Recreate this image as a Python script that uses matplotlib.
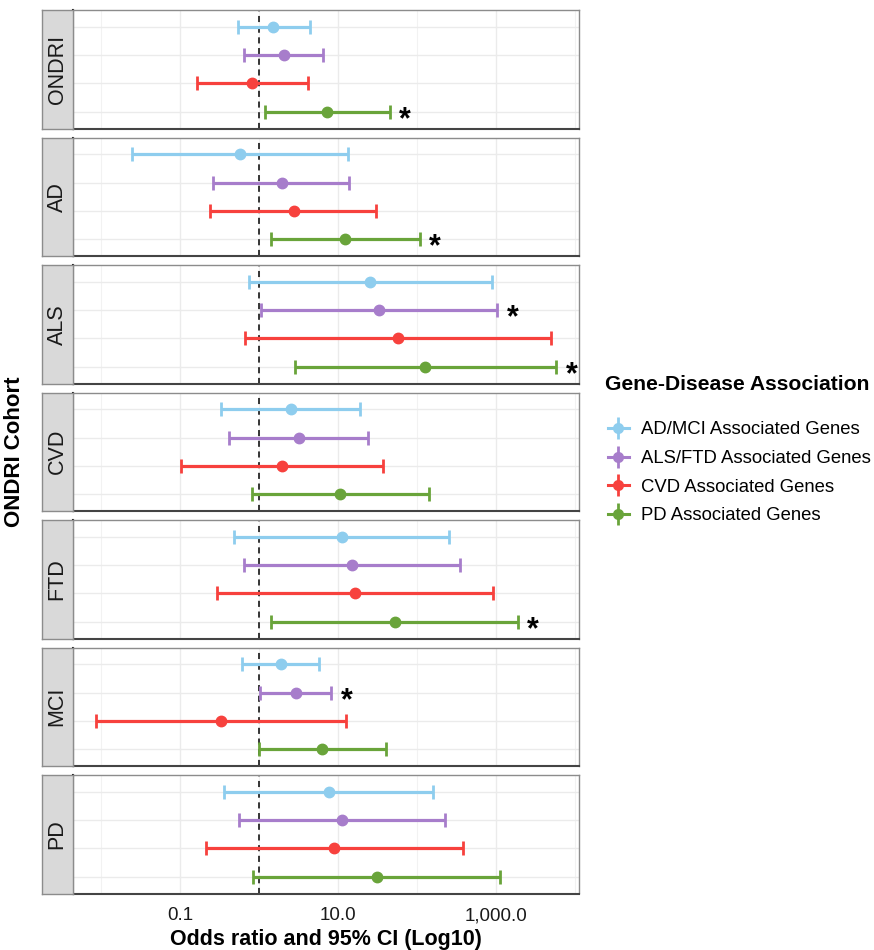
import matplotlib
matplotlib.use("Agg")
import matplotlib.pyplot as plt
from matplotlib.lines import Line2D
from matplotlib.legend_handler import HandlerTuple
import matplotlib.ticker as mticker

plt.rcParams['font.family'] = ['Liberation Sans', 'DejaVu Sans']

# ---------------- data ----------------
cohorts = ["ONDRI", "AD", "ALS", "CVD", "FTD", "MCI", "PD"]
groups = ["AD/MCI Associated Genes", "ALS/FTD Associated Genes",
          "CVD Associated Genes", "PD Associated Genes"]
colors = ["#8ECDEE", "#A77DCB", "#F7413D", "#69A43A"]

# rows = cohorts, columns = groups
odds_ratio = [
    [1.52, 2.06, 0.82, 7.3],
    [0.58, 1.93, 2.76, 12.4],
    [25.4, 33.2, 58.0, 127.0],
    [2.52, 3.22, 1.97, 10.6],
    [11.4, 15.2, 16.5, 51.9],
    [1.88, 2.91, 0.327, 6.3],
    [7.7, 11.4, 9.0, 31.0],
]
ci_lower = [
    [0.54, 0.65, 0.165, 1.19],
    [0.025, 0.26, 0.244, 1.41],
    [0.75, 1.05, 0.67, 2.85],
    [0.327, 0.418, 0.104, 0.82],
    [0.49, 0.645, 0.295, 1.44],
    [0.61, 1.03, 0.0086, 1.0],
    [0.365, 0.565, 0.216, 0.853],
]
ci_upper = [
    [4.4, 6.44, 4.2, 44.9],
    [13.2, 13.9, 30.4, 108.0],
    [875.0, 1023.0, 4930.0, 5700.0],
    [19.0, 24.3, 36.7, 140.0],
    [253.0, 350.0, 903.0, 1870.0],
    [5.75, 8.2, 12.6, 40.2],
    [160.0, 224.0, 383.0, 1117.0],
]
significant = [
    [0, 0, 0, 1],
    [0, 0, 0, 1],
    [0, 1, 0, 1],
    [0, 0, 0, 0],
    [0, 0, 0, 1],
    [0, 1, 0, 0],
    [0, 0, 0, 0],
]
x_ticks = [0.1, 10.0, 1000.0]
x_tick_labels = ["0.1", "10.0", "1,000.0"]
x_minor = [0.01, 1.0, 100.0, 10000.0]

# ---------------- layout ----------------
W, H = 874, 950
fig = plt.figure(figsize=(W / 100, H / 100), dpi=100)
left, right = 72.5, 578.5
strip_w = 30.5
top0, ph, gap = 10.0, 118.5, 9.0
xlim = (10 ** -2.358, 10 ** 4.042)

for i, coh in enumerate(cohorts):
    t = top0 + i * (ph + gap)
    ax = fig.add_axes([left / W, 1 - (t + ph) / H, (right - left) / W, ph / H])
    ax.set_xscale('log')
    ax.set_xlim(*xlim)
    ax.set_ylim(3.6, -0.6)
    # grid
    for xv in x_ticks:
        ax.axvline(xv, color='#EBEBEB', lw=1.0, zorder=0)
    for xv in x_minor:
        ax.axvline(xv, color='#F2F2F2', lw=0.8, zorder=0)
    for yv in range(4):
        ax.axhline(yv, color='#EBEBEB', lw=1.0, zorder=0)
    ax.axvline(1.0, color='black', lw=1.1, ls=(0, (4, 3)), zorder=1)
    for j in range(4):
        o = odds_ratio[i][j]
        lo = ci_lower[i][j]
        hi = ci_upper[i][j]
        ax.errorbar([o], [j], xerr=[[o - lo], [hi - o]], fmt='o',
                    color=colors[j], ms=7.5, elinewidth=2.3, capsize=5,
                    capthick=2.0, zorder=3)
        if significant[i][j]:
            ax.annotate('*', xy=(hi, j), xytext=(7, -6),
                        textcoords='offset points', ha='left', va='center',
                        fontsize=22, fontweight='bold',
                        annotation_clip=False)
    ax.set_yticks([])
    ax.xaxis.set_major_locator(mticker.FixedLocator(x_ticks))
    ax.xaxis.set_minor_locator(mticker.NullLocator())
    ax.tick_params(axis='x', length=0, labelsize=13.5, labelcolor='#1A1A1A', pad=10)
    if i == len(cohorts) - 1:
        ax.set_xticklabels(x_tick_labels)
    else:
        ax.set_xticklabels([])
    for s in ['top', 'right']:
        ax.spines[s].set_color('#8C8C8C')
        ax.spines[s].set_linewidth(1.0)
    ax.spines['left'].set_color('#111111')
    ax.spines['left'].set_linewidth(1.5)
    ax.spines['bottom'].set_color('#444444')
    ax.spines['bottom'].set_linewidth(1.5)

    # strip on the left
    sx = fig.add_axes([(left - strip_w) / W, 1 - (t + ph) / H, strip_w / W, ph / H])
    sx.set_facecolor('#D9D9D9')
    sx.set_xticks([])
    sx.set_yticks([])
    for s in sx.spines.values():
        s.set_color('#8C8C8C')
        s.set_linewidth(1.0)
    sx.text(0.5, 0.5, coh, rotation=90, ha='center', va='center',
            fontsize=15.5, color='#1A1A1A', transform=sx.transAxes)

# axis labels
fig.text((left + right) / 2 / W, 1 - 940 / H, "Odds ratio and 95% CI (Log10)",
         ha='center', va='center', fontsize=15.5, fontweight='bold')
fig.text(15 / W, 1 - 452 / H, "ONDRI Cohort", rotation=90,
         ha='center', va='center', fontsize=16, fontweight='bold')

# legend
fig.text(605 / W, 1 - 384 / H, "Gene-Disease Association", ha='left',
         va='center', fontsize=15.2, fontweight='bold')
handles = []
for c in colors:
    h1 = Line2D([], [], color=c, marker='o', ms=7, lw=2.2)
    h2 = Line2D([], [], color=c, marker='|', ms=16, mew=2.0, ls='none')
    handles.append((h1, h2))
leg = fig.legend(handles, groups, handler_map={tuple: HandlerTuple(ndivide=1)},
                 loc='upper left', bbox_to_anchor=(607.5 / W, 1 - 421.5 / H),
                 frameon=False, fontsize=13.3, borderpad=0, borderaxespad=0,
                 handlelength=1.15, labelspacing=0.63, handletextpad=0.66)

fig.savefig("out.png", dpi=100)
